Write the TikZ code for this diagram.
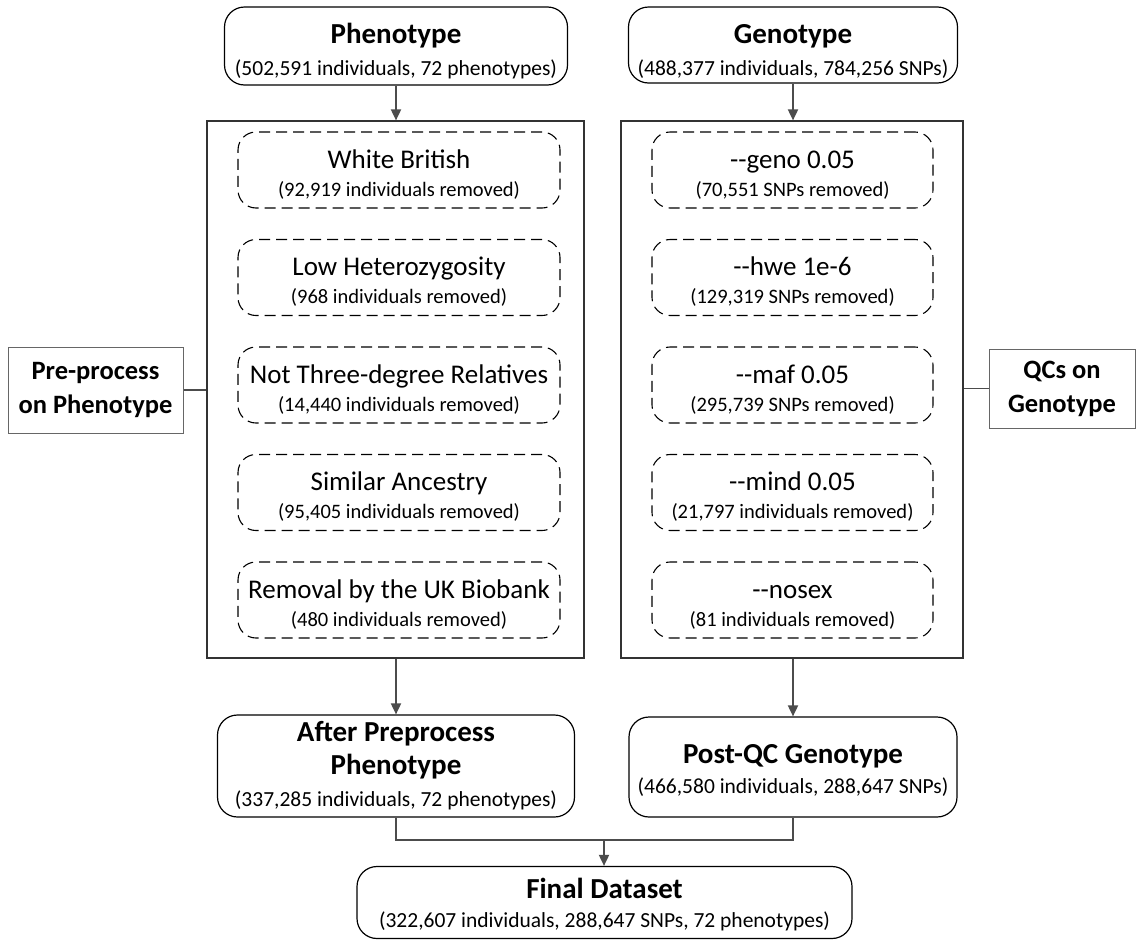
\documentclass[tikz,border=0pt]{standalone}
\usepackage{fontspec}
\setmainfont{Carlito}
\usepackage{tikz}
\usetikzlibrary{arrows.meta,positioning}
\newcommand{\headline}[1]{{\fontsize{29}{36}\selectfont\bfseries #1}}
\newcommand{\stepname}[1]{{\fontsize{27}{32}\selectfont\rule{0pt}{27pt}#1}}

\begin{document}
\begin{tikzpicture}[x=1pt,y=-1pt,
      every node/.append style={align=center,inner sep=0pt,font=\fontsize{21.5}{28}\selectfont},
      >={Triangle[length=11pt,width=10pt]}]
    \tikzstyle{stage} = [draw,rounded corners=20pt,line width=1.2pt]
    \tikzstyle{filter} = [draw,rounded corners=18pt,line width=1.1pt,dash pattern=on 11pt off 6pt,
      minimum height=76pt,font=\fontsize{20.5}{28}\selectfont]
    \tikzstyle{panel} = [draw=black!80,line width=1.2pt,minimum height=537pt]
    \tikzstyle{side} = [draw=black!60,line width=1pt,font=\fontsize{26.5}{34}\selectfont\bfseries]
    \tikzstyle{link} = [draw=black!70,line width=1.8pt]
    \useasboundingbox (0,0) rectangle (1136,940);

    \node (pheno) [stage,minimum width=343pt,minimum height=78pt] at (396,46)
      {\headline{\rule{0pt}{31pt}Phenotype}\\[4pt] (502,591 individuals, 72 phenotypes)};
    \node (geno) [stage,minimum width=329pt,minimum height=76pt] at (793,45)
      {\headline{\rule{0pt}{31pt}Genotype}\\[4pt] (488,377 individuals, 784,256 SNPs)};

    \node (prepanel) [panel,minimum width=377pt] at (395.5,389.5) {};
    \node (qcpanel) [panel,minimum width=342pt] at (792,389.5) {};

    \node (white) [filter,minimum width=322pt] at (399,170)
      {\stepname{White British}\\ (92,919 individuals removed)};
    \node (hetero) [filter,minimum width=322pt] at (399,277.5)
      {\stepname{Low Heterozygosity}\\ (968 individuals removed)};
    \node (relatives) [filter,minimum width=322pt] at (399,385)
      {\stepname{Not Three-degree Relatives}\\ (14,440 individuals removed)};
    \node (ancestry) [filter,minimum width=322pt] at (399,492.5)
      {\stepname{Similar Ancestry}\\ (95,405 individuals removed)};
    \node (biobank) [filter,minimum width=322pt] at (399,600)
      {\stepname{Removal by the UK Biobank}\\ (480 individuals removed)};

    \node (genofilter) [filter,minimum width=281pt] at (792.5,170)
      {\stepname{-{}-geno 0.05}\\ (70,551 SNPs removed)};
    \node (hwe) [filter,minimum width=281pt] at (792.5,277.5)
      {\stepname{-{}-hwe 1e-6}\\ (129,319 SNPs removed)};
    \node (maf) [filter,minimum width=281pt] at (792.5,385)
      {\stepname{-{}-maf 0.05}\\ (295,739 SNPs removed)};
    \node (mind) [filter,minimum width=281pt] at (792.5,492.5)
      {\stepname{-{}-mind 0.05}\\ (21,797 individuals removed)};
    \node (nosex) [filter,minimum width=281pt] at (792.5,600)
      {\stepname{-{}-nosex}\\ (81 individuals removed)};

    \node (prebox) [side,minimum width=175pt,minimum height=86pt] at (95.5,390)
      {Pre-process\\ on Phenotype};
    \node (qcbox) [side,minimum width=146pt,minimum height=79pt] at (1062,388.5)
      {QCs on\\ Genotype};

    \node (after) [stage,minimum width=357pt,minimum height=102pt] at (396,766)
      {\headline{After Preprocess}\\[5pt] \headline{Phenotype}\\[4pt] (337,285 individuals, 72 phenotypes)};
    \node (postqc) [stage,minimum width=328pt,minimum height=100pt] at (793,767)
      {\headline{\rule{0pt}{25pt}Post-QC Genotype}\\[2pt] (466,580 individuals, 288,647 SNPs)};
    \node (final) [stage,minimum width=495pt,minimum height=72pt] at (604.5,902.5)
      {\headline{\rule{0pt}{25pt}Final Dataset}\\[1pt] (322,607 individuals, 288,647 SNPs, 72 phenotypes)};
    \coordinate (merge) at (604,840);

    \draw[link,->] (pheno.south) -- (pheno.south |- prepanel.north);
    \draw[link,->] (geno.south) -- (geno.south |- qcpanel.north);
    \draw[link] (prebox.east) -- (prebox.east -| prepanel.west);
    \draw[link] (qcbox.west) -- (qcbox.west -| qcpanel.east);
    \draw[link,->] (after.north |- prepanel.south) -- (after.north);
    \draw[link,->] (postqc.north |- qcpanel.south) -- (postqc.north);
    \draw[link] (after.south) |- (merge) -| (postqc.south);
    \draw[link,->] (merge) -- (merge |- final.north);
  \end{tikzpicture}
\end{document}
